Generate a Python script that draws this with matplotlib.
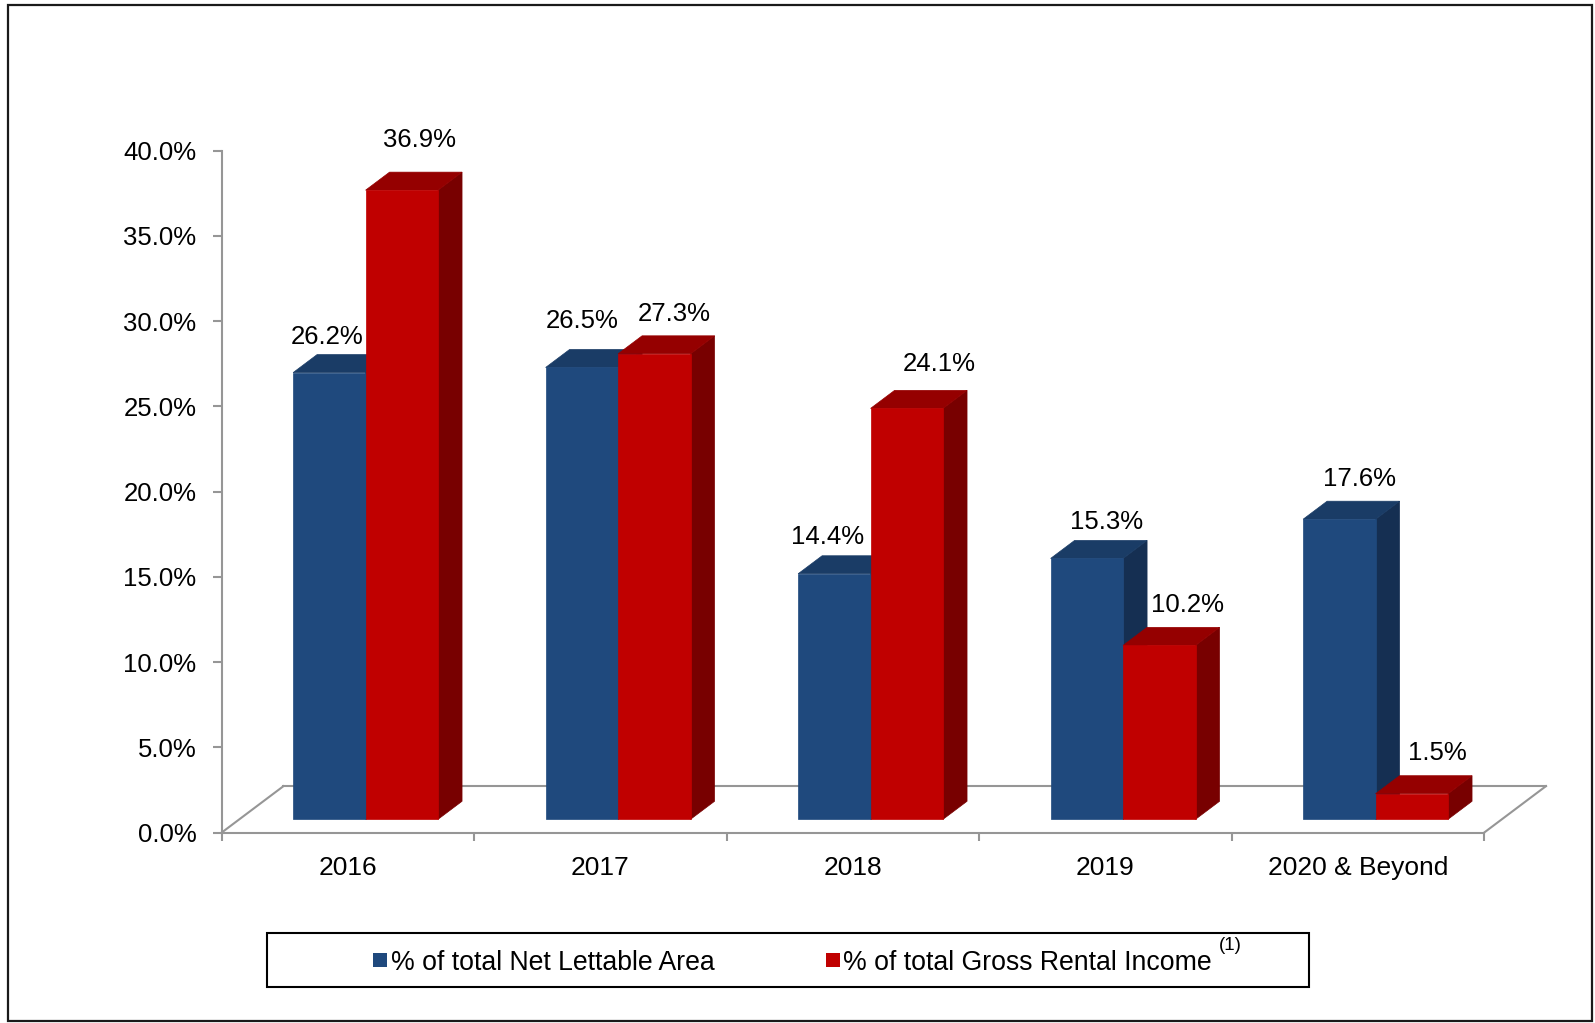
import matplotlib
matplotlib.use("Agg")
import matplotlib.pyplot as plt
from matplotlib.patches import Rectangle, Polygon
from matplotlib.lines import Line2D

plt.rcParams['font.family'] = ['Liberation Sans', 'DejaVu Sans']

# ---- data -------------------------------------------------------------
categories = ["2016", "2017", "2018", "2019", "2020 & Beyond"]
nla_pct = [26.2, 26.5, 14.4, 15.3, 17.6]      # % of total Net Lettable Area
gri_pct = [36.9, 27.3, 24.1, 10.2, 1.5]       # % of total Gross Rental Income
y_ticks = [0, 5, 10, 15, 20, 25, 30, 35, 40]
series_names = ["% of total Net Lettable Area", "% of total Gross Rental Income"]
footnote_mark = "(1)"

# ---- style --------------------------------------------------------------
W, H = 1595, 1023
BLUE = ("#1F497D", "#1A3C66", "#152F52")   # front, top, side
RED = ("#C00000", "#950000", "#780000")
GRID = "#969696"

# pseudo-3D floor geometry (data units)
FLOOR_DX, FLOOR_DY = 0.2454, 2.73      # depth vector of full floor
FRONT_D, DEPTH_D = 0.288, 0.387        # bar front depth and bar depth (fractions)
BAR_W = 0.287

# value-label nudges in pixels (x: from bar centre, y: above bar top)
nla_dx = [-2, 0, -7, 20, 20]
gri_dx = [18, 20, 32, 28, 26]
nla_dy = [36, 46, 37, 36, 40]
gri_dy = [50, 40, 44, 40, 41]

fig = plt.figure(figsize=(W / 100, H / 100), dpi=100)
ax = fig.add_axes([221.5 / W, 1 - 832.7 / H, (1484 - 221.5) / W, (832.7 - 150.7) / H])
ax.set_xlim(-0.5, len(categories) - 0.5)
ax.set_ylim(0, 40)

for s in ("top", "right"):
    ax.spines[s].set_visible(False)
for s in ("left", "bottom"):
    ax.spines[s].set_color(GRID)
    ax.spines[s].set_linewidth(1.5)

ax.set_yticks(y_ticks)
ax.set_yticklabels([f"{t:.1f}%" for t in y_ticks])
ax.tick_params(axis="y", direction="out", length=6.5, width=1.5, color=GRID,
               pad=11.5, labelsize=18.5, labelcolor="black")
ax.set_xticks([i - 0.5 for i in range(len(categories) + 1)])
ax.set_xticklabels([])
ax.tick_params(axis="x", which="major", direction="out", length=6, width=1.5, color=GRID)
ax.set_xticks(range(len(categories)), minor=True)
ax.set_xticklabels(categories, minor=True)
ax.tick_params(axis="x", which="minor", length=0, pad=17, labelsize=19, labelcolor="black")

# floor outline (back edge and side diagonals)
x0, x1 = -0.5, len(categories) - 0.5
for xs, ys in (([x0 + FLOOR_DX, x1 + FLOOR_DX], [FLOOR_DY, FLOOR_DY]),
               ([x0, x0 + FLOOR_DX], [0, FLOOR_DY]),
               ([x1, x1 + FLOOR_DX], [0, FLOOR_DY])):
    ax.add_line(Line2D(xs, ys, color=GRID, lw=1.5, clip_on=False, zorder=1))

fdx, fdy = FRONT_D * FLOOR_DX, FRONT_D * FLOOR_DY
ddx, ddy = DEPTH_D * FLOOR_DX, DEPTH_D * FLOOR_DY


def bar3d(left, value, colors):
    front, top, side = colors
    b = fdy
    l = left
    r = left + BAR_W
    ax.add_patch(Polygon([(r, b), (r + ddx, b + ddy), (r + ddx, b + value + ddy), (r, b + value)],
                         closed=True, facecolor=side, edgecolor=side, lw=0.5, zorder=3, clip_on=False))
    ax.add_patch(Polygon([(l, b + value), (r, b + value), (r + ddx, b + value + ddy), (l + ddx, b + value + ddy)],
                         closed=True, facecolor=top, edgecolor=top, lw=0.5, zorder=3, clip_on=False))
    ax.add_patch(Rectangle((l, b), BAR_W, value, facecolor=front, edgecolor=front,
                           lw=0.5, zorder=3, clip_on=False))


def value_label(left, value, nx, ny):
    cx = left + fdx + BAR_W / 2
    ax.annotate(f"{value:.1f}%", xy=(cx, fdy + value), xytext=(nx * 0.72, ny * 0.72),
                textcoords="offset points", ha="center", va="center",
                fontsize=18.5, color="black", zorder=5, annotation_clip=False)


for i, (vb, vr) in enumerate(zip(nla_pct, gri_pct)):
    lb = i - BAR_W
    lr = i
    bar3d(lb + fdx, vb, BLUE)
    bar3d(lr + fdx, vr, RED)
    value_label(lb, vb, nla_dx[i], nla_dy[i])
    value_label(lr, vr, gri_dx[i], gri_dy[i])

# ---- legend ---------------------------------------------------------------
def fx(px):
    return px / W


def fy(py):
    return 1 - py / H


fig.patches.append(Rectangle((fx(266.5), fy(986.7)), fx(1309) - fx(266.5), fy(933) - fy(986.7),
                             transform=fig.transFigure, facecolor="none", edgecolor="black", lw=1.5))
ty = fy(963)
fig.patches.append(Rectangle((fx(372.7), fy(967)), fx(14), 14 / H,
                             transform=fig.transFigure, facecolor=BLUE[0], edgecolor="none"))
fig.text(fx(391), ty, series_names[0], ha="left", va="center", fontsize=19.2)
fig.patches.append(Rectangle((fx(826), fy(967)), fx(14), 14 / H,
                             transform=fig.transFigure, facecolor=RED[0], edgecolor="none"))
t2 = fig.text(fx(843), ty, series_names[1], ha="left", va="center", fontsize=19.2)
fig.canvas.draw()
bb = t2.get_window_extent()
fig.text(bb.x1 / W + fx(7), fy(945), footnote_mark, ha="left", va="center", fontsize=13.5)

# outer frame
fig.patches.append(Rectangle((fx(8), fy(1021)), fx(1592) - fx(8), fy(5) - fy(1021),
                             transform=fig.transFigure, facecolor="none", edgecolor="#1a1a1a", lw=1.6))

fig.savefig("out.png", dpi=100)
